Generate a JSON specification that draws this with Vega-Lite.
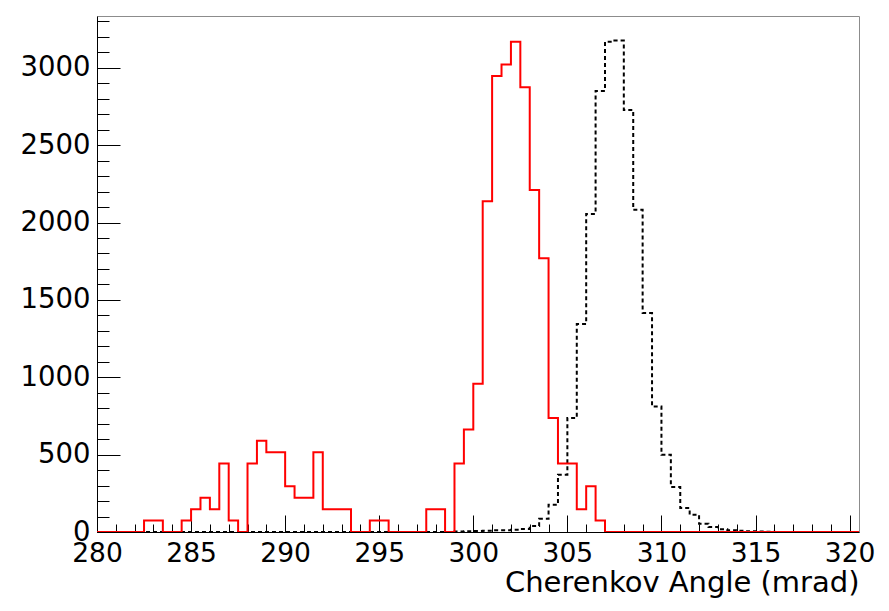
{
  "$schema": "https://vega.github.io/schema/vega-lite/v6.json",
  "width": 762,
  "height": 516,
  "autosize": {"type": "none"},
  "padding": {"left": 97, "top": 16, "right": 30, "bottom": 79},
  "background": "white",
  "config": {
    "view": {"stroke": "#8c8c8c", "strokeWidth": 1},
    "font": "DejaVu Sans",
    "axis": {"grid": false, "labelFont": "DejaVu Sans", "titleFont": "DejaVu Sans", "labelColor": "black", "titleColor": "black", "tickColor": "black", "domainColor": "black", "labelOverlap": false, "labelFlush": false}
  },
  "datasets": {
    "red": [
      {"angle": 280.0, "count": 0}, {"angle": 280.5, "count": 0}, {"angle": 281.0, "count": 0}, {"angle": 281.5, "count": 0},
      {"angle": 282.0, "count": 0}, {"angle": 282.5, "count": 74}, {"angle": 283.0, "count": 74}, {"angle": 283.5, "count": 0},
      {"angle": 284.0, "count": 0}, {"angle": 284.5, "count": 74}, {"angle": 285.0, "count": 147}, {"angle": 285.5, "count": 221},
      {"angle": 286.0, "count": 147}, {"angle": 286.5, "count": 442}, {"angle": 287.0, "count": 74}, {"angle": 287.5, "count": 0},
      {"angle": 288.0, "count": 442}, {"angle": 288.5, "count": 590}, {"angle": 289.0, "count": 516}, {"angle": 289.5, "count": 516},
      {"angle": 290.0, "count": 295}, {"angle": 290.5, "count": 221}, {"angle": 291.0, "count": 221}, {"angle": 291.5, "count": 516},
      {"angle": 292.0, "count": 147}, {"angle": 292.5, "count": 147}, {"angle": 293.0, "count": 147}, {"angle": 293.5, "count": 0},
      {"angle": 294.0, "count": 0}, {"angle": 294.5, "count": 74}, {"angle": 295.0, "count": 74}, {"angle": 295.5, "count": 0},
      {"angle": 296.0, "count": 0}, {"angle": 296.5, "count": 0}, {"angle": 297.0, "count": 0}, {"angle": 297.5, "count": 147},
      {"angle": 298.0, "count": 147}, {"angle": 298.5, "count": 0}, {"angle": 299.0, "count": 442}, {"angle": 299.5, "count": 663},
      {"angle": 300.0, "count": 958}, {"angle": 300.5, "count": 2137}, {"angle": 301.0, "count": 2948}, {"angle": 301.5, "count": 3022},
      {"angle": 302.0, "count": 3169}, {"angle": 302.5, "count": 2874}, {"angle": 303.0, "count": 2211}, {"angle": 303.5, "count": 1769},
      {"angle": 304.0, "count": 737}, {"angle": 304.5, "count": 442}, {"angle": 305.0, "count": 442}, {"angle": 305.5, "count": 147},
      {"angle": 306.0, "count": 295}, {"angle": 306.5, "count": 74}, {"angle": 307.0, "count": 0}, {"angle": 307.5, "count": 0},
      {"angle": 308.0, "count": 0}, {"angle": 310.0, "count": 0}, {"angle": 315.0, "count": 0}, {"angle": 320.0, "count": 0},
      {"angle": 320.5, "count": 0}
    ],
    "black": [
      {"angle": 280.0, "count": 0}, {"angle": 290.0, "count": 0}, {"angle": 298.5, "count": 0},
      {"angle": 299.0, "count": 3}, {"angle": 299.5, "count": 5}, {"angle": 300.0, "count": 7}, {"angle": 300.5, "count": 8},
      {"angle": 301.0, "count": 12}, {"angle": 301.5, "count": 12}, {"angle": 302.0, "count": 15}, {"angle": 302.5, "count": 20},
      {"angle": 303.0, "count": 38}, {"angle": 303.5, "count": 85}, {"angle": 304.0, "count": 176}, {"angle": 304.5, "count": 370},
      {"angle": 305.0, "count": 736}, {"angle": 305.5, "count": 1344}, {"angle": 306.0, "count": 2056}, {"angle": 306.5, "count": 2851},
      {"angle": 307.0, "count": 3169}, {"angle": 307.5, "count": 3176}, {"angle": 308.0, "count": 2728}, {"angle": 308.5, "count": 2082},
      {"angle": 309.0, "count": 1415}, {"angle": 309.5, "count": 811}, {"angle": 310.0, "count": 499}, {"angle": 310.5, "count": 291},
      {"angle": 311.0, "count": 155}, {"angle": 311.5, "count": 112}, {"angle": 312.0, "count": 54}, {"angle": 312.5, "count": 32},
      {"angle": 313.0, "count": 18}, {"angle": 313.5, "count": 12}, {"angle": 314.0, "count": 8}, {"angle": 314.5, "count": 5},
      {"angle": 315.0, "count": 3}, {"angle": 315.5, "count": 2}, {"angle": 316.0, "count": 0}, {"angle": 320.0, "count": 0},
      {"angle": 320.5, "count": 0}
    ]
  },
  "layer": [
    {
      "data": {"name": "black"},
      "mark": {"type": "line", "interpolate": "step-after", "color": "black", "strokeWidth": 2, "strokeDash": [4, 3], "clip": true},
      "encoding": {
        "x": {
          "field": "angle", "type": "quantitative",
          "scale": {"domain": [280, 320.5], "nice": false, "zero": false},
          "axis": {
            "orient": "bottom",
            "values": [280, 285, 290, 295, 300, 305, 310, 315, 320],
            "format": "d",
            "tickSize": -17, "tickWidth": 1,
            "labelFontSize": 26.5, "labelPadding": 25,
            "domainWidth": 1,
            "title": "Cherenkov Angle (mrad)",
            "titleFontSize": 29, "titleFontWeight": "normal",
            "titleAnchor": "end", "titleAlign": "right", "titlePadding": 2
          }
        },
        "y": {
          "field": "count", "type": "quantitative",
          "scale": {"domain": [0, 3335], "nice": false},
          "axis": {
            "orient": "left",
            "values": [0, 500, 1000, 1500, 2000, 2500, 3000],
            "format": "d",
            "tickSize": -23, "tickWidth": 1,
            "labelFontSize": 27.5, "labelPadding": 30,
            "domainWidth": 1,
            "title": null
          }
        }
      }
    },
    {
      "data": {"name": "red"},
      "mark": {"type": "line", "interpolate": "step-after", "color": "#ff0000", "strokeWidth": 2, "clip": true},
      "encoding": {
        "x": {
          "field": "angle", "type": "quantitative",
          "axis": {
            "orient": "bottom",
            "values": [280,281,282,283,284,285,286,287,288,289,290,291,292,293,294,295,296,297,298,299,300,301,302,303,304,305,306,307,308,309,310,311,312,313,314,315,316,317,318,319,320],
            "labels": false, "domain": false, "tickSize": -8, "tickWidth": 1, "title": null
          }
        },
        "y": {
          "field": "count", "type": "quantitative",
          "axis": {
            "orient": "left",
            "values": [0,100,200,300,400,500,600,700,800,900,1000,1100,1200,1300,1400,1500,1600,1700,1800,1900,2000,2100,2200,2300,2400,2500,2600,2700,2800,2900,3000,3100,3200,3300],
            "labels": false, "domain": false, "tickSize": -12, "tickWidth": 1, "title": null
          }
        }
      }
    }
  ],
  "resolve": {"axis": {"x": "independent", "y": "independent"}}
}
